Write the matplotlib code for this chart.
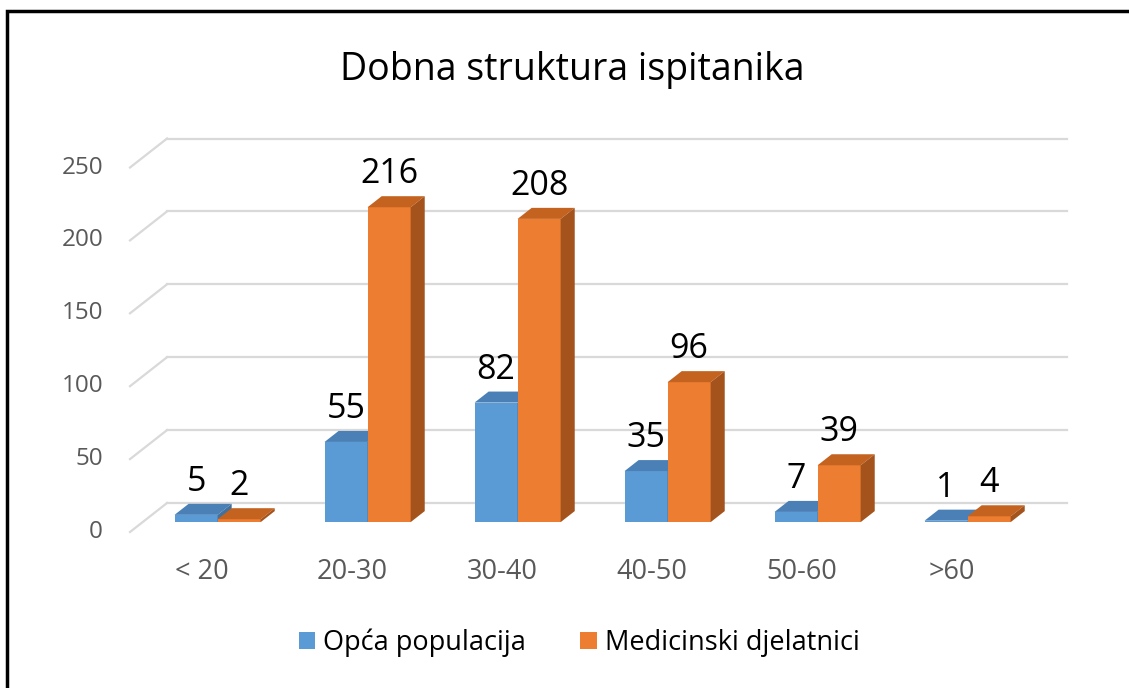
import matplotlib.pyplot as plt
from matplotlib.patches import Polygon, Patch, Rectangle

plt.rcParams['font.family'] = ['Open Sans', 'DejaVu Sans']

categories = ['< 20', '20-30', '30-40', '40-50', '50-60', '>60']
opca = [5, 55, 82, 35, 7, 1]
medicinski = [2, 216, 208, 96, 39, 4]
series_names = ['Opća populacija', 'Medicinski djelatnici']
yticks = [0, 50, 100, 150, 200, 250]

blue = ('#5B9BD5', '#4A80B6', '#41719C')     # front, top, side
orange = ('#ED7D31', '#C4621F', '#A5531C')

# oblique "3d" look: depth offsets in data units
DX = 0.247   # full depth, x
DY = 19.9    # full depth, y
d0, d1 = 0.34, 0.72   # bar front / back depth
bw = 0.287

fig = plt.figure(figsize=(11.29, 6.88), dpi=100)
ax = fig.add_axes([0, 0, 1, 1])
ax.set_xlim(-1.3667, 6.16)
ax.set_ylim(-107.0, 364.9)
ax.axis('off')

grid_c = '#D9D9D9'
x_left = -0.5
x_right = len(categories) - 0.5
for v in yticks:
    ax.plot([x_left, x_left + DX], [v, v + DY], color=grid_c, lw=1.6, zorder=1)
    ax.plot([x_left + DX, x_right + DX], [v + DY, v + DY], color=grid_c, lw=1.6, zorder=1)
    ax.text(-0.68, v, str(v), ha='right', va='center', fontsize=17.5, color='#595959')


def bar3d(x0, v, cols):
    fx = x0 + d0 * DX
    ox = (d1 - d0) * DX
    oy = (d1 - d0) * DY
    front_b = d0 * DY
    front_t = v + d0 * DY
    # front
    ax.add_patch(Rectangle((fx, front_b), bw, v, facecolor=cols[0], edgecolor='none', zorder=3))
    # top
    ax.add_patch(Polygon([(fx, front_t), (fx + bw, front_t), (fx + bw + ox, front_t + oy),
                          (fx + ox, front_t + oy)], closed=True, facecolor=cols[1],
                         edgecolor='none', zorder=3))
    # side
    ax.add_patch(Polygon([(fx + bw, front_b), (fx + bw + ox, front_b + oy),
                          (fx + bw + ox, front_t + oy), (fx + bw, front_t)], closed=True,
                         facecolor=cols[2], edgecolor='none', zorder=3))
    ax.text(fx + bw / 2, front_t + 16.5, str(v), ha='center', va='baseline',
            fontsize=24.5, color='black', zorder=5)


for i, cat in enumerate(categories):
    bar3d(i - bw, opca[i], blue)
    bar3d(i, medicinski[i], orange)
    ax.text(i - 0.02, -27.4, cat, ha='center', va='center', fontsize=19.5, color='#595959')

fig.text(0.507, 1 - 70 / 688, 'Dobna struktura ispitanika', ha='center', va='center',
         fontsize=27, color='black')

handles = [Patch(facecolor=blue[0]), Patch(facecolor=orange[0])]
fig.legend(handles, series_names, loc='center', bbox_to_anchor=(0.513, 1 - 643 / 688),
           ncol=2, frameon=False, fontsize=19.5, handlelength=0.6, handleheight=0.6,
           handletextpad=0.3, columnspacing=2.0)

# outer frame
fig.add_artist(Rectangle((7 / 1129, -0.1), 1.2, 1 - 11 / 688 + 0.1, transform=fig.transFigure,
                         fill=False, edgecolor='black', lw=2.5))

fig.savefig('out.png', dpi=100)
